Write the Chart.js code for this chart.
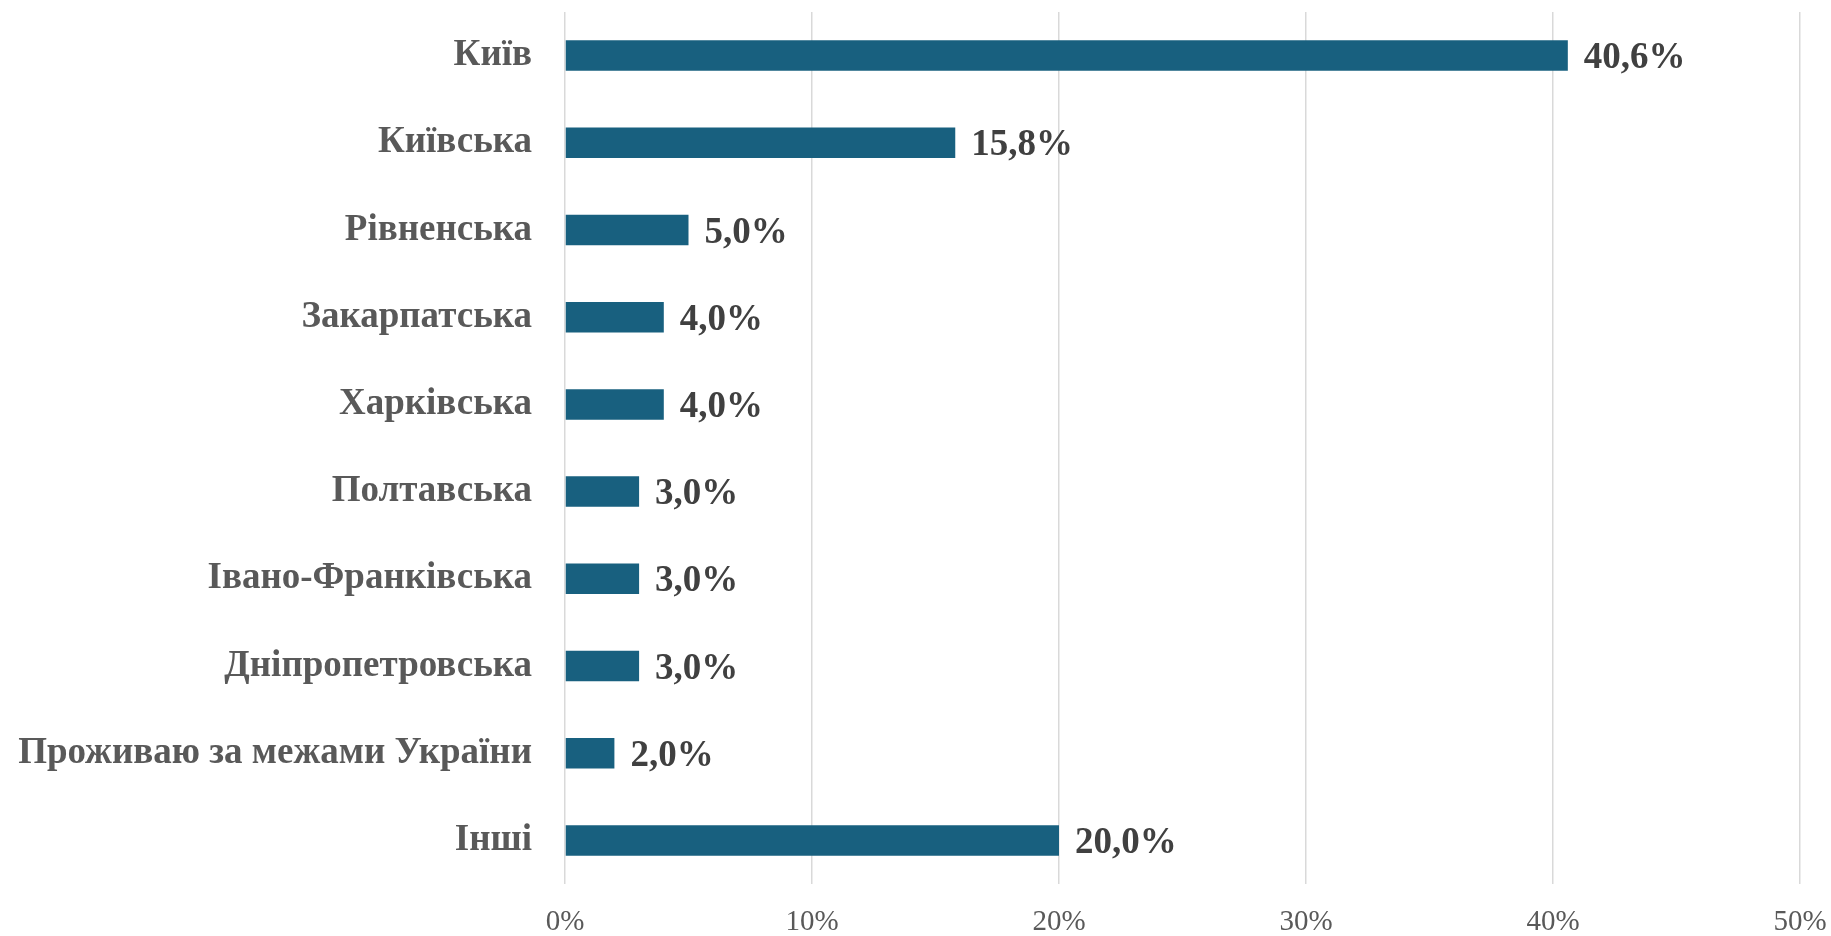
<!DOCTYPE html>
<html>
<head>
<meta charset="utf-8">
<script src="https://cdn.jsdelivr.net/npm/chart.js@4.4.1/dist/chart.umd.min.js"></script>
<style>
html,body{margin:0;padding:0;background:#fff;}
#wrap{width:1831px;height:936px;position:relative;}
</style>
</head>
<body>
<div id="wrap"><canvas id="c" width="1831" height="936"></canvas></div>
<script>
const categories = ["Київ","Київська","Рівненська","Закарпатська","Харківська","Полтавська","Івано-Франківська","Дніпропетровська","Проживаю за межами України","Інші"];
const values = [40.6,15.8,5.0,4.0,4.0,3.0,3.0,3.0,2.0,20.0];
const xTicks = [0,10,20,30,40,50];

const FONT = "'Liberation Serif', 'Times New Roman', serif";

const valueLabels = {
  id: 'valueLabels',
  afterDatasetsDraw(chart) {
    const ctx = chart.ctx;
    const meta = chart.getDatasetMeta(0);
    ctx.save();
    ctx.font = "bold 37px " + FONT;
    ctx.fillStyle = "#404040";
    ctx.textAlign = "left";
    ctx.textBaseline = "middle";
    meta.data.forEach((bar, i) => {
      const txt = values[i].toFixed(1).replace('.', ',') + '%';
      ctx.fillText(txt, bar.x + 16, bar.y + 3);
    });
    ctx.restore();
  }
};

function zeroPad(scale) {
  scale.paddingTop = 0; scale.paddingBottom = 0;
  scale.paddingLeft = 0; scale.paddingRight = 0;
}

new Chart(document.getElementById('c'), {
  type: 'bar',
  data: {
    labels: categories,
    datasets: [{
      data: values,
      backgroundColor: '#18607f',
      borderWidth: 0,
      categoryPercentage: 0.7,
      barPercentage: 0.5
    }]
  },
  options: {
    indexAxis: 'y',
    responsive: false,
    animation: false,
    layout: { padding: { top: 12, right: 31, left: 0, bottom: 0 } },
    plugins: { legend: { display: false }, tooltip: { enabled: false } },
    scales: {
      x: {
        min: 0, max: 50,
        afterBuildTicks(scale) { scale.ticks = xTicks.map(v => ({ value: v })); },
        afterFit(scale) { scale.height = 52; zeroPad(scale); },
        grid: { color: '#d9d9d9', lineWidth: 1.5, drawTicks: false },
        border: { display: false },
        ticks: {
          padding: 21,
          color: '#595959',
          font: { family: FONT, size: 29 },
          callback: v => v + '%'
        }
      },
      y: {
        afterFit(scale) { scale.width = 565; zeroPad(scale); },
        grid: { display: false, drawTicks: false },
        border: { display: false },
        ticks: {
          padding: 33,
          color: '#595959',
          font: { family: FONT, size: 37, weight: 'bold' }
        }
      }
    }
  },
  plugins: [valueLabels]
});
</script>
</body>
</html>
